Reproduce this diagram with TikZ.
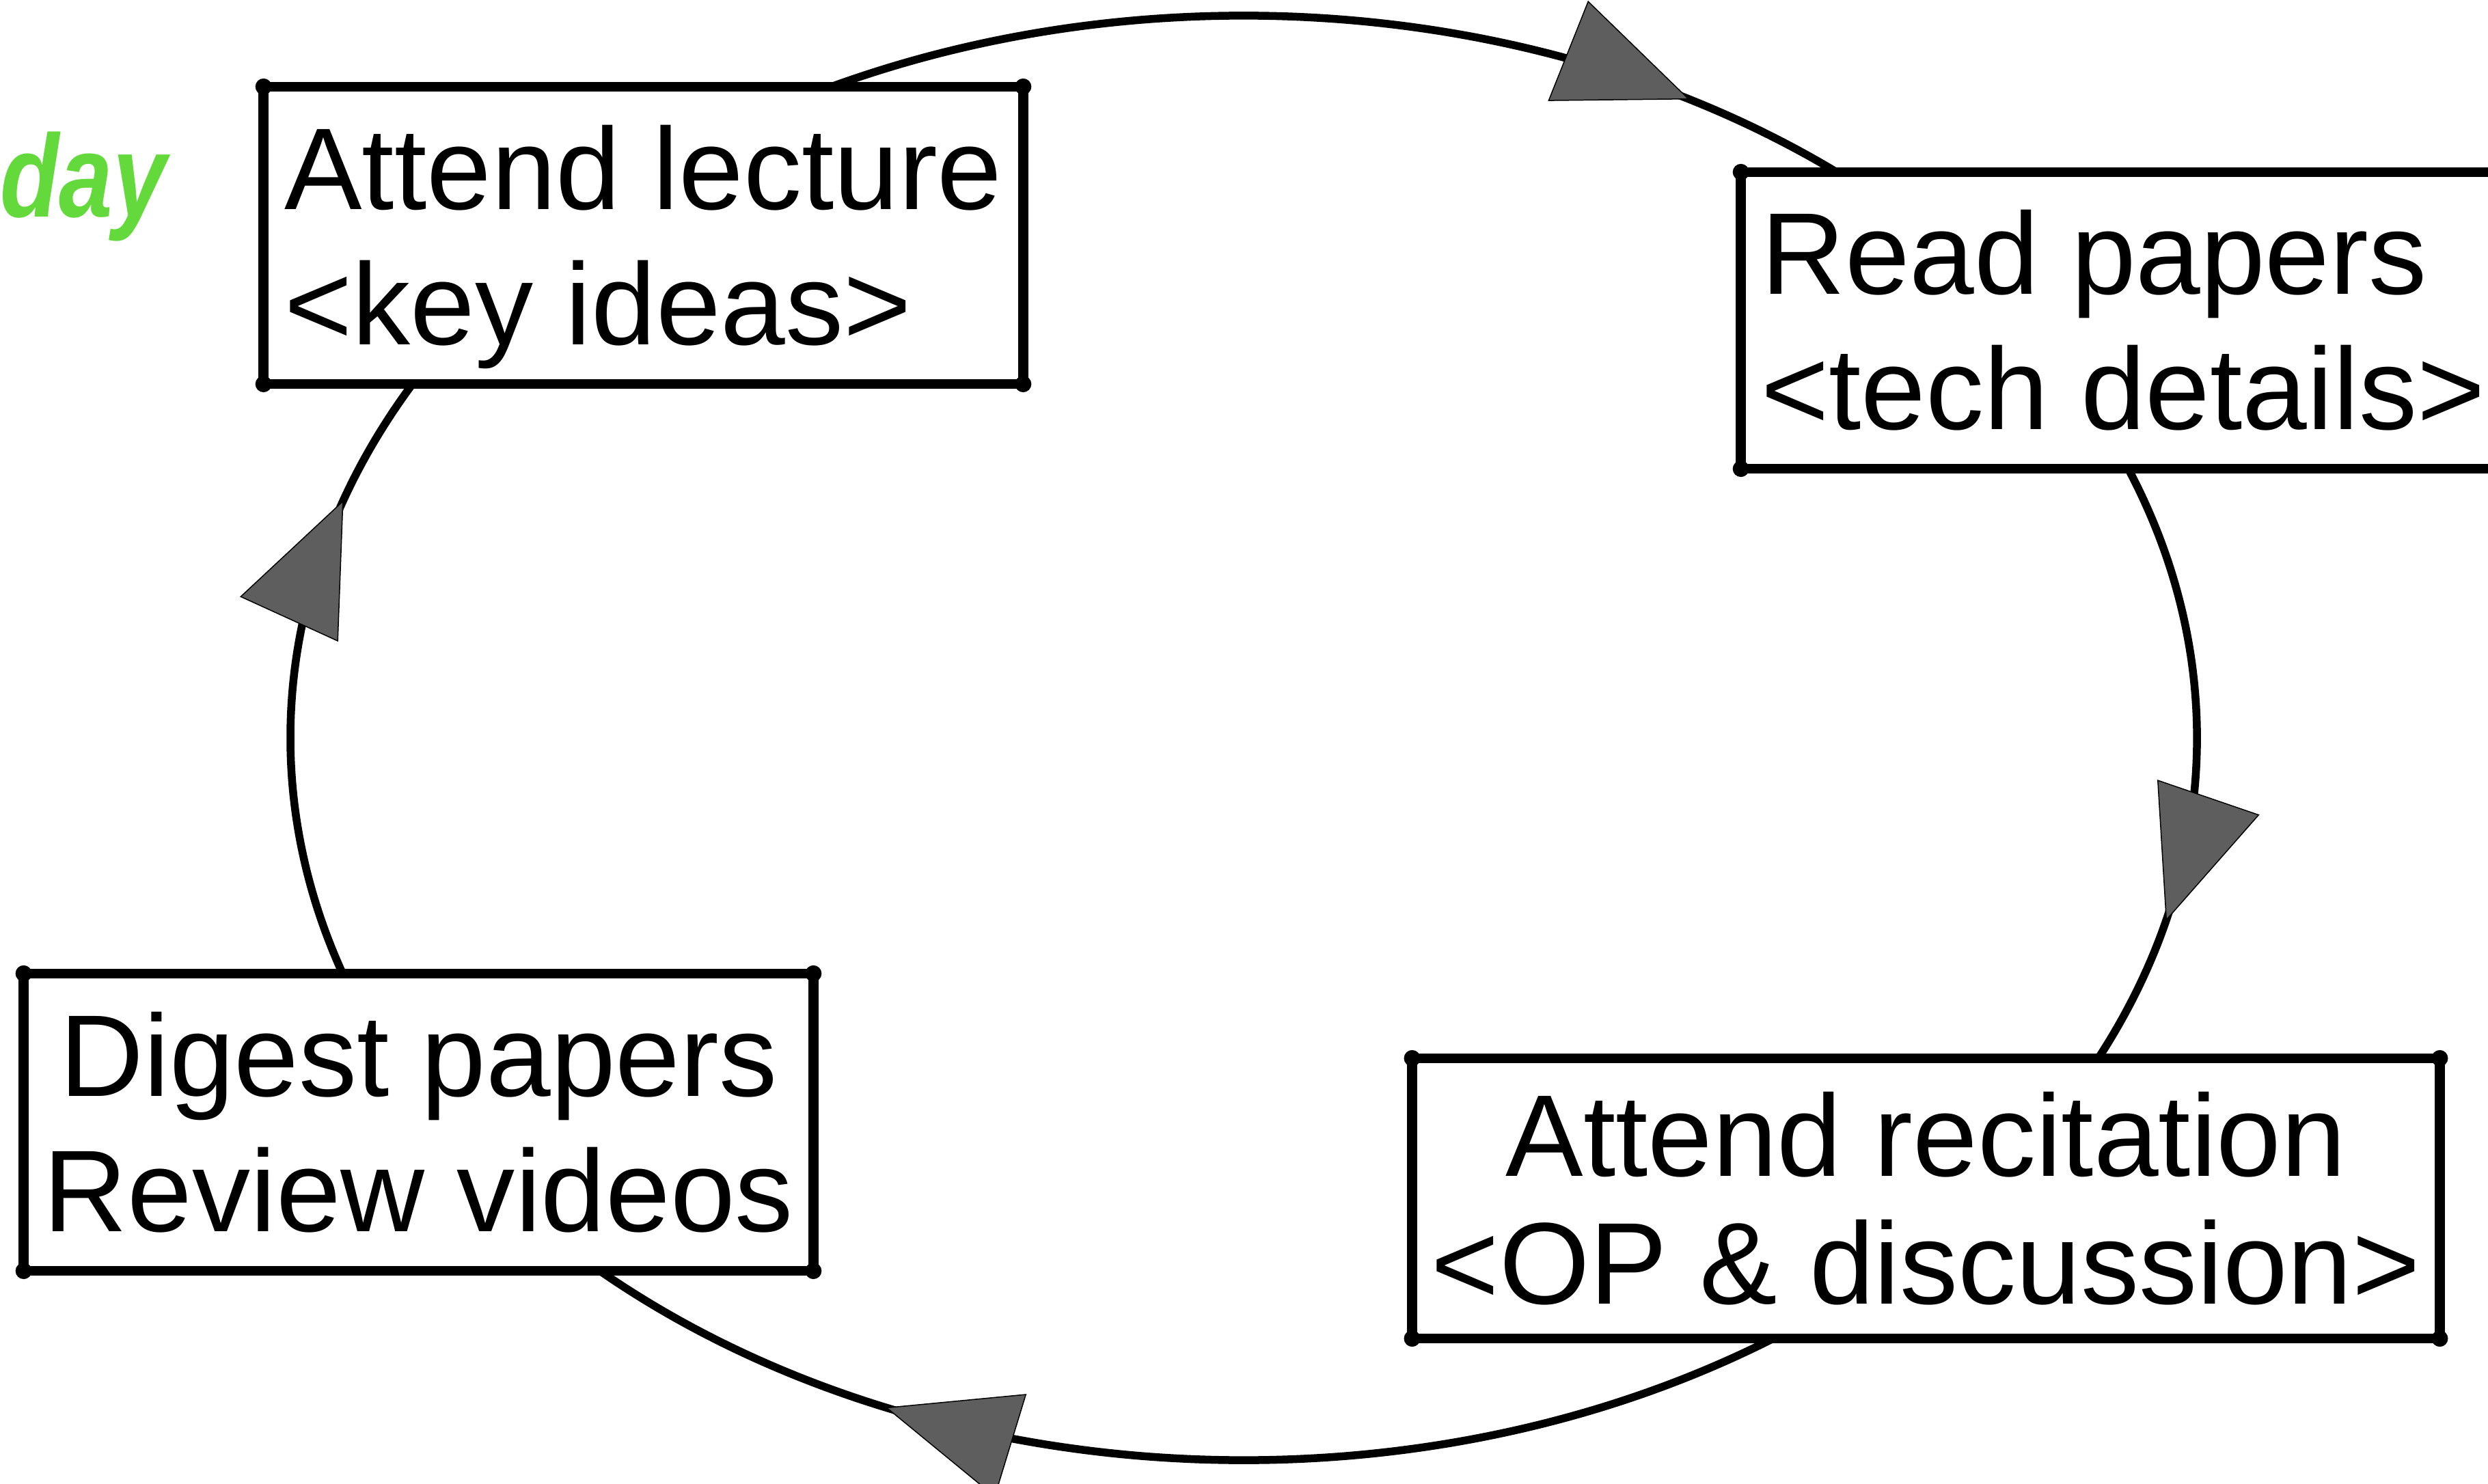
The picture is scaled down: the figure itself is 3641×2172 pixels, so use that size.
\documentclass[tikz,border=0pt]{standalone}
\usepackage{graphicx}
\usepackage{fontspec}
\setmainfont{Liberation Sans}
\usetikzlibrary{calc,decorations.markings}
\definecolor{daygreen}{RGB}{99,217,60}
\definecolor{arrowgray}{RGB}{94,94,94}
\pgfdeclarelayer{bg}
\pgfsetlayers{bg,main}
\tikzset{
  box/.style={draw, line width=0.145cm, fill=white, rectangle, inner sep=0pt, outer sep=0pt,
    line join=round, text height=1.22cm, text depth=1.98cm,
    font=\fontsize{48.4pt}{56.3pt}\selectfont},
  conn/.style={line width=0.115cm, line cap=round},
  tipshape/.style={fill=arrowgray, draw=black, line width=0.015cm, line join=miter},
  arrowat/.style={postaction={decorate, decoration={markings,
      mark=at position #1 with {\draw[tipshape] (0,0) -- (-189,78) -- (-189,-78) -- cycle;}}}},
  daylabel/.style={anchor=base west, inner sep=0pt, text=daygreen,
    font=\fontsize{48.9pt}{50pt}\selectfont\bfseries\itshape},
  ell/.style={x radius=13.95cm, y radius=10.57cm},
}
\begin{document}
\begin{tikzpicture}[x=0.01cm, y=0.01cm]
\useasboundingbox (0,0) rectangle (3641,2172);

\node[box, minimum width=11.11cm, minimum height=4.35cm] (b1) at (941.5,1827.5)
  {\begin{tabular}[t]{@{}l@{}}Attend lecture\\<key ideas>\end{tabular}};
\node[box, minimum width=11.18cm, minimum height=4.34cm] (b2) at (3107,1703)
  {\begin{tabular}[t]{@{}l@{}}Read papers\\<tech details>\end{tabular}};
\node[box, minimum width=15.03cm, minimum height=4.10cm, text depth=1.87cm,
  font=\fontsize{48.4pt}{53.2pt}\selectfont] (b3) at (2818.5,418)
  {\begin{tabular}[t]{@{}c@{}}Attend recitation\\<OP \& discussion>\end{tabular}};
\node[box, minimum width=11.55cm, minimum height=4.35cm] (b4) at (612.5,529.5)
  {\begin{tabular}[t]{@{}c@{}}Digest papers\\Review videos\end{tabular}};

\foreach \n in {b1,b2,b3,b4}{
  \foreach \c in {north west,north east,south west,south east}{
    \fill (\n.\c) circle (0.12cm);
  }
}

\node[daylabel] (day) at (0,1854) {\scalebox{0.82}[1]{day}};

\begin{pgfonlayer}{bg}
\draw[conn, arrowat=0.828] ($(b1.north)+(275.3,0)$)
  arc[start angle=115.62, end angle=50.5, ell];
\draw[conn, arrowat=0.7315] ($(b2.south)+(7.5,0)$)
  arc[start angle=21.89, end angle=-27.5, ell];
\draw[conn, arrowat=0.731] ($(b3.south)+(-223.7,0)$)
  arc[start angle=-56.27, end angle=-133.5, ell];
\draw[conn, arrowat=0.761] ($(b4.north)+(-111.1,0)$)
  arc[start angle=199.05, end angle=149.5, ell];
\end{pgfonlayer}
\end{tikzpicture}
\end{document}
